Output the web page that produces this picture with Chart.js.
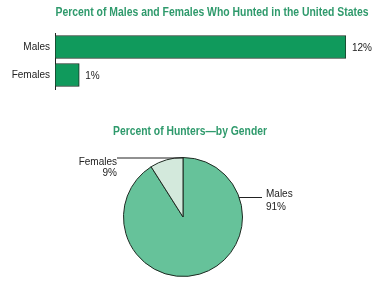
<!DOCTYPE html>
<html><head><meta charset="utf-8">
<script src="https://cdn.jsdelivr.net/npm/chart.js@4/dist/chart.umd.min.js"></script>
<style>
html,body{margin:0;padding:0;background:#fff;width:392px;height:295px;overflow:hidden}
canvas{position:absolute;left:0}
#bar{top:0}
#pie{top:100px}
</style></head>
<body>
<canvas id="bar" width="392" height="100"></canvas>
<canvas id="pie" width="392" height="195"></canvas>
<script>
const barTitle = "Percent of Males and Females Who Hunted in the United States";
const barCategories = ["Males", "Females"];
const barValues = [12, 1];
const barLabels = ["12%", "1%"];

const pieTitle = "Percent of Hunters\u2014by Gender";
const pieCategories = ["Males", "Females"];
const pieValues = [91, 9];
const pieLabels = ["91%", "9%"];

const TITLE_FONT = "bold 13px 'Liberation Sans', Arial, sans-serif";
const TITLE_COLOR = "#2f9a6c";
const LABEL_FONT = "10px 'Liberation Sans', Arial, sans-serif";
const TEXT_COLOR = "#222";

// draw a title condensed horizontally so it spans the given width
function drawTitle(ctx, text, cx, cy, width) {
  ctx.save();
  ctx.font = TITLE_FONT;
  ctx.fillStyle = TITLE_COLOR;
  ctx.textAlign = 'center';
  ctx.textBaseline = 'middle';
  const w = ctx.measureText(text).width;
  const s = Math.min(1, width / w);
  ctx.translate(cx, cy);
  ctx.scale(s, 1);
  ctx.fillText(text, 0, 0);
  ctx.restore();
}

const barPlugin = {
  id: 'barDecor',
  afterDraw(chart) {
    const ctx = chart.ctx;
    drawTitle(ctx, barTitle, 212, 12, 313);
    ctx.save();
    ctx.font = LABEL_FONT;
    ctx.fillStyle = TEXT_COLOR;
    ctx.textAlign = 'left';
    ctx.textBaseline = 'middle';
    const meta = chart.getDatasetMeta(0);
    meta.data.forEach((el, i) => {
      ctx.fillText(barLabels[i], el.x + 6, el.y + 1);
    });
    ctx.restore();
  }
};

new Chart(document.getElementById('bar'), {
  type: 'bar',
  data: {
    labels: barCategories,
    datasets: [{
      data: barValues,
      backgroundColor: '#109a5c',
      borderColor: '#1b2e22',
      borderWidth: 1,
      borderSkipped: false,
      barThickness: 23
    }]
  },
  options: {
    indexAxis: 'y',
    responsive: false,
    animation: false,
    devicePixelRatio: 1,
    layout: { padding: { top: 33, bottom: 8, left: 0, right: 46 } },
    plugins: { legend: { display: false }, tooltip: { enabled: false } },
    scales: {
      x: { min: 0, max: 12, display: false },
      y: {
        grid: { display: false, drawTicks: false },
        border: { display: true, color: '#222', width: 1 },
        ticks: { color: TEXT_COLOR, font: { family: "'Liberation Sans', Arial, sans-serif", size: 10 }, padding: 5 },
        afterFit(scale) { scale.width = 55; }
      }
    }
  },
  plugins: [barPlugin]
});

const piePlugin = {
  id: 'pieDecor',
  afterDraw(chart) {
    const ctx = chart.ctx;
    drawTitle(ctx, pieTitle, 190, 31, 154);
    ctx.save();
    const arc = chart.getDatasetMeta(0).data[0];
    const cx = arc.x, cy = arc.y, r = arc.outerRadius;
    ctx.strokeStyle = '#222';
    ctx.lineWidth = 1;
    // Females leader
    ctx.beginPath();
    ctx.moveTo(cx, cy - r + 0.5);
    ctx.lineTo(cx - 66, cy - r + 0.5);
    ctx.stroke();
    // Males leader
    const ly = cy - 20;
    const ex = cx + Math.sqrt(r * r - 20 * 20);
    ctx.beginPath();
    ctx.moveTo(ex, ly + 0.5);
    ctx.lineTo(cx + 79, ly + 0.5);
    ctx.stroke();
    ctx.font = LABEL_FONT;
    ctx.fillStyle = TEXT_COLOR;
    ctx.textBaseline = 'middle';
    ctx.textAlign = 'right';
    ctx.fillText(pieCategories[1], cx - 66, cy - r + 5);
    ctx.fillText(pieLabels[1], cx - 66, cy - r + 16);
    ctx.textAlign = 'left';
    ctx.fillText(pieCategories[0], cx + 83, ly - 3);
    ctx.fillText(pieLabels[0], cx + 83, ly + 10);
    ctx.restore();
  }
};

new Chart(document.getElementById('pie'), {
  type: 'pie',
  data: {
    labels: pieCategories,
    datasets: [{
      data: pieValues,
      backgroundColor: ['#66c29a', '#d3e9dc'],
      borderColor: '#1e2a22',
      borderWidth: 1
    }]
  },
  options: {
    responsive: false,
    animation: false,
    devicePixelRatio: 1,
    layout: { padding: { top: 57, bottom: 18, left: 123, right: 149 } },
    plugins: { legend: { display: false }, tooltip: { enabled: false } }
  },
  plugins: [piePlugin]
});
</script>
</body></html>
